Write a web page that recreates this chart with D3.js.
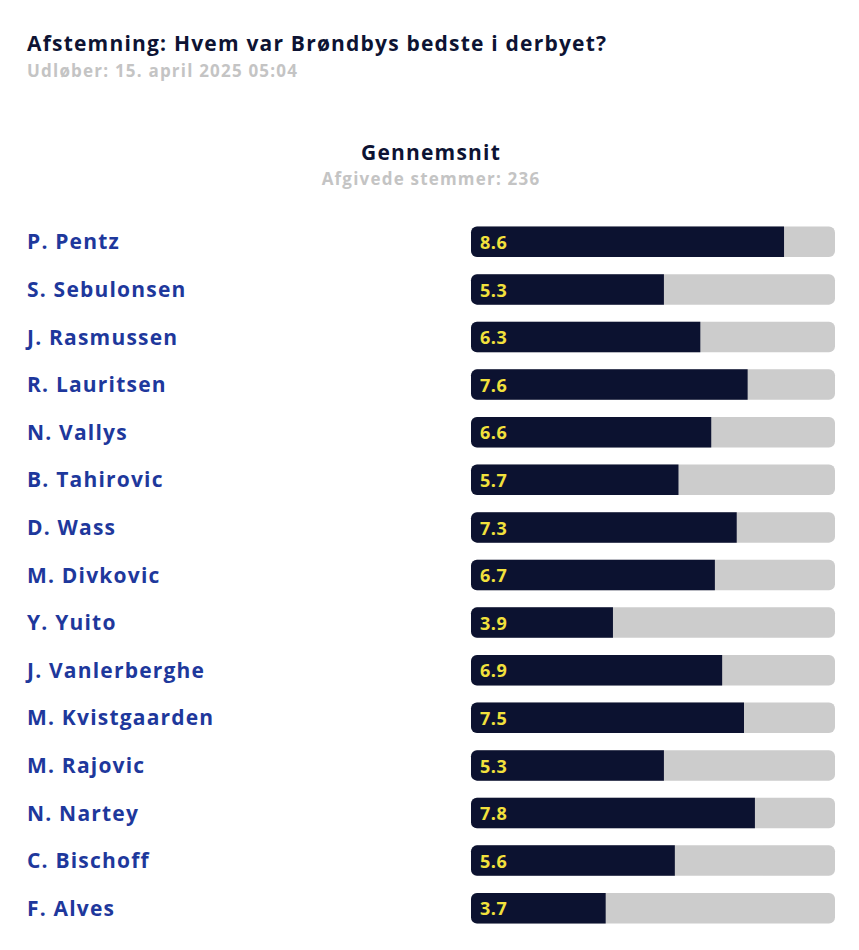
<!DOCTYPE html>
<meta charset="utf-8">
<style>
    body { margin: 0; background: #fff; }
    text { font-family: "Open Sans", "Lato", sans-serif; font-weight: 700; }
    .title { fill: #0d1333; font-size: 21px; letter-spacing: 1.2px; }
    .sub { fill: #c4c4c4; font-size: 17px; letter-spacing: 1.2px; }
    .name { fill: #1e389c; font-size: 21px; letter-spacing: 1.2px; }
    .val { fill: #f2e13c; font-size: 18px; letter-spacing: 0.5px; }
</style>
<svg width="859" height="950"></svg>
<script src="https://d3js.org/d3.v7.min.js"></script>
<script>

    var players = ["P. Pentz", "S. Sebulonsen", "J. Rasmussen", "R. Lauritsen", "N. Vallys",
        "B. Tahirovic", "D. Wass", "M. Divkovic", "Y. Yuito", "J. Vanlerberghe",
        "M. Kvistgaarden", "M. Rajovic", "N. Nartey", "C. Bischoff", "F. Alves"];
    var scores = [8.6, 5.3, 6.3, 7.6, 6.6, 5.7, 7.3, 6.7, 3.9, 6.9, 7.5, 5.3, 7.8, 5.6, 3.7];
    var maxScore = 10;

    var svg = d3.select("svg");

    svg.append("text").attr("class", "title").attr("x", 27).attr("y", 51)
        .text("Afstemning: Hvem var Brøndbys bedste i derbyet?");
    svg.append("text").attr("class", "sub").attr("x", 27).attr("y", 77)
        .text("Udløber: 15. april 2025 05:04");

    svg.append("text").attr("class", "title").attr("x", 431).attr("y", 160)
        .attr("text-anchor", "middle").text("Gennemsnit");
    svg.append("text").attr("class", "sub").attr("x", 431).attr("y", 185)
        .attr("text-anchor", "middle").text("Afgivede stemmer: 236");

    var x = d3.scaleLinear().domain([0, maxScore]).range([471, 835]);
    var y = d3.scaleBand().domain(players).range([218, 932]).paddingInner(0.36).paddingOuter(0.18);

    var rows = svg.selectAll(".row")
        .data(players.map(function(p, i) { return {name: p, score: scores[i]}; }))
        .enter().append("g")
        .attr("class", "row")
        .attr("transform", function(d) { return "translate(0," + y(d.name) + ")"; });

    var h = y.bandwidth(), r = 6;

    rows.append("text").attr("class", "name")
        .attr("x", 27).attr("y", h / 2).attr("dy", "0.36em")
        .text(function(d) { return d.name; });

    rows.append("rect")
        .attr("x", x(0)).attr("width", x(maxScore) - x(0))
        .attr("height", h).attr("rx", r).attr("fill", "#cccccc");

    // dark bar: rounded left, square right
    rows.append("path")
        .attr("fill", "#0c1230")
        .attr("d", function(d) {
            var x0 = x(0), x1 = x(d.score);
            return "M" + (x0 + r) + ",0H" + x1 + "V" + h + "H" + (x0 + r) +
                "A" + r + "," + r + " 0 0 1 " + x0 + "," + (h - r) +
                "V" + r + "A" + r + "," + r + " 0 0 1 " + (x0 + r) + ",0Z";
        });

    rows.append("text").attr("class", "val")
        .attr("x", x(0) + 9).attr("y", h / 2).attr("dy", "0.4em")
        .text(function(d) { return d.score.toFixed(1); });

</script>
